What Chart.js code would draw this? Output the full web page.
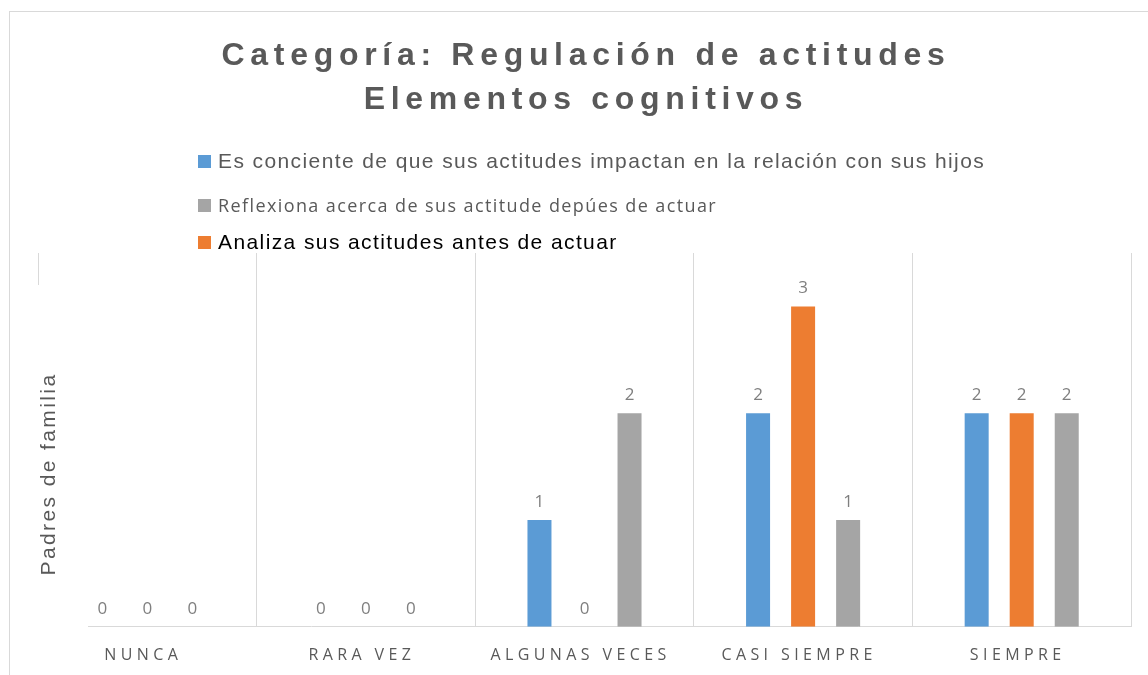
<!DOCTYPE html>
<html>
<head>
<meta charset="utf-8">
<script src="https://cdn.jsdelivr.net/npm/chart.js@4/dist/chart.umd.min.js"></script>
<style>
  body { margin: 0; background: #fff; }
  #wrap { position: relative; width: 1148px; height: 675px; overflow: hidden; }
  #frame { position: absolute; left: 9px; top: 11px; width: 1160px; height: 700px; border: 1px solid #d9d9d9; }
  #title { position: absolute; left: 0; top: 32px; width: 1172px; text-align: center;
    font: bold 32px "Liberation Sans", Arial, sans-serif; letter-spacing: 5.7px; line-height: 44px; color: #595959; }
  .leg { position: absolute; left: 198px; display: flex; align-items: center; white-space: nowrap; letter-spacing: 1.4px; }
  .leg i { display: inline-block; width: 13px; height: 13px; margin-right: 7px; }
  #ytitle { position: absolute; left: 38px; top: 285px; width: 50px; height: 385px; background: #fff; }
  #ytitle span { position: absolute; left: 10px; top: 189px; transform: translate(-50%, -50%) rotate(-90deg);
    white-space: nowrap; font: 21px "Liberation Sans", Arial, sans-serif; letter-spacing: 2.4px; color: #595959; }
  canvas { position: absolute; left: 0; top: 0; }
</style>
</head>
<body>
<div id="wrap">
  <div id="frame"></div>
  <canvas id="chart" width="1148" height="695"></canvas>
  <div id="title">Categoría: Regulación de actitudes<br>Elementos cognitivos</div>
  <div id="legend"></div>
  <div id="ytitle"><span>Padres de familia</span></div>
</div>
<script>
const categories = ['NUNCA', 'RARA VEZ', 'ALGUNAS VECES', 'CASI SIEMPRE', 'SIEMPRE'];
const seriesNames = [
  'Es conciente de que sus actitudes impactan en la relación con sus hijos',
  'Analiza sus actitudes antes de actuar',
  'Reflexiona acerca de sus actitude depúes de actuar'
];
const conciente = [0, 0, 1, 2, 2];
const analiza = [0, 0, 0, 3, 2];
const reflexiona = [0, 0, 2, 1, 2];
const colors = ['#5b9bd5', '#ed7d31', '#a5a5a5'];

// legend is html: each entry has its own font in the original
const legendRows = [
  { i: 0, top: 161, font: '21px "Liberation Sans", Arial, sans-serif', color: '#595959' },
  { i: 2, top: 205, font: '18px "Open Sans", sans-serif', color: '#595959' },
  { i: 1, top: 242, font: '21px "Liberation Sans", Arial, sans-serif', color: '#000' }
];
const legendEl = document.getElementById('legend');
legendRows.forEach(r => {
  const d = document.createElement('div');
  d.className = 'leg';
  d.style.top = (r.top - 13) + 'px';
  d.style.height = '26px';
  d.style.font = r.font;
  d.style.color = r.color;
  d.innerHTML = '<i style="background:' + colors[r.i] + '"></i>';
  d.appendChild(document.createTextNode(seriesNames[r.i]));
  legendEl.appendChild(d);
});

// spaced caps on the category axis, plain text for the bar values
const spacing = {
  id: 'spacing',
  beforeDraw(chart) { chart.ctx.letterSpacing = '4.4px'; },
  beforeDatasetsDraw(chart) { chart.ctx.letterSpacing = '0px'; }
};

const valueLabels = {
  id: 'valueLabels',
  afterDatasetsDraw(chart) {
    const ctx = chart.ctx;
    ctx.save();
    ctx.font = '17px "Open Sans", sans-serif';
    ctx.fillStyle = '#7f7f7f';
    ctx.textAlign = 'center';
    ctx.textBaseline = 'alphabetic';
    chart.data.datasets.forEach((ds, i) => {
      chart.getDatasetMeta(i).data.forEach((bar, j) => {
        ctx.fillText(ds.data[j], bar.x, bar.y - 13);
      });
    });
    ctx.restore();
  }
};

new Chart(document.getElementById('chart'), {
  type: 'bar',
  data: {
    labels: categories,
    datasets: [
      { label: seriesNames[0], data: conciente, backgroundColor: colors[0] },
      { label: seriesNames[1], data: analiza, backgroundColor: colors[1] },
      { label: seriesNames[2], data: reflexiona, backgroundColor: colors[2] }
    ]
  },
  options: {
    responsive: false,
    animation: false,
    categoryPercentage: 0.618,
    barPercentage: 0.533,
    layout: { padding: { left: 38, right: 17, top: 253, bottom: 11 } },
    plugins: { legend: { display: false }, title: { display: false }, tooltip: { enabled: false } },
    scales: {
      x: {
        grid: { color: '#d9d9d9', drawTicks: false, offset: true },
        border: { color: '#d9d9d9' },
        ticks: { color: '#595959', font: { family: '"Open Sans", sans-serif', size: 16 }, padding: 19, labelOffset: -4, maxRotation: 0, autoSkip: false }
      },
      y: { display: false, min: 0, max: 3.5 }
    }
  },
  plugins: [spacing, valueLabels]
});
</script>
</body>
</html>
